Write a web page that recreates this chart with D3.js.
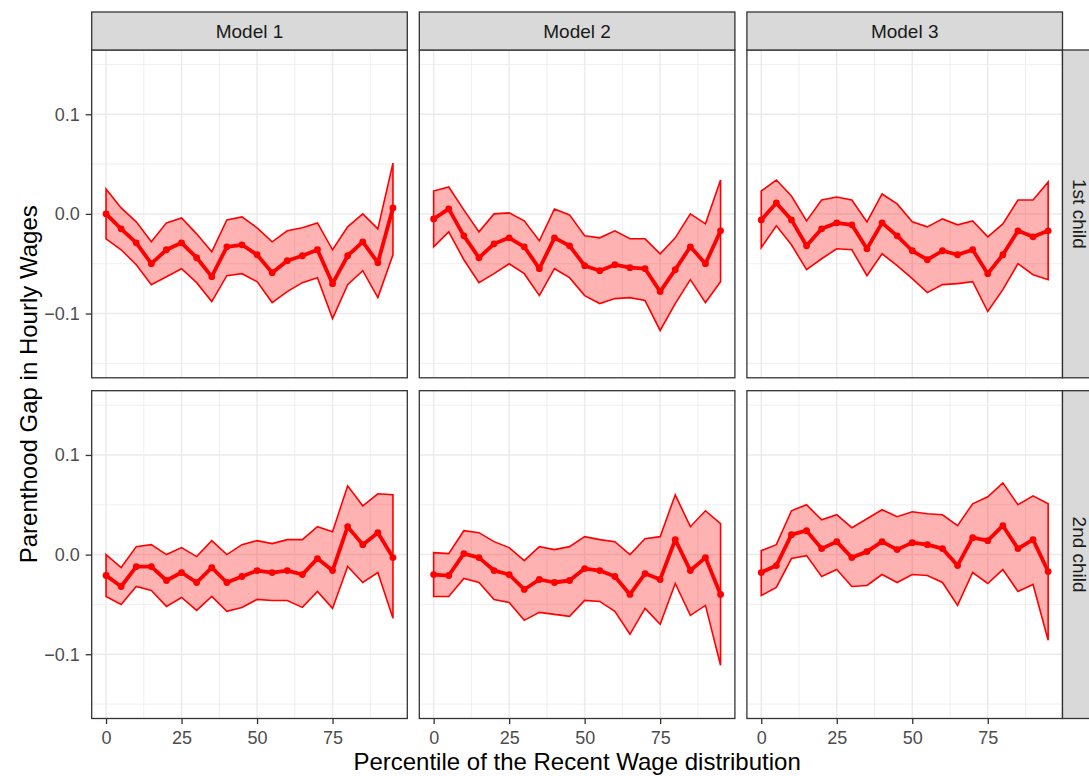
<!DOCTYPE html>
<html><head><meta charset="utf-8">
<script src="https://cdn.jsdelivr.net/npm/d3@7"></script>
<style>
html,body{margin:0;padding:0;background:#fff;}
svg{display:block;font-family:"Liberation Sans",Arial,Helvetica,sans-serif;}
</style></head>
<body><svg id="chart" width="1089" height="776"></svg>
<script>
// ---- data ----
const percentiles = [0,5,10,15,20,25,30,35,40,45,50,55,60,65,70,75,80,85,90,95];
const models = ["Model 1","Model 2","Model 3"];
const children = ["1st child","2nd child"];
const xTicks = [0,25,50,75];
const yTicks = [-0.1,0.0,0.1];
const yTickLabels = ["\u22120.1","0.0","0.1"];

// Model 1, 1st child
const m1c1_est = [0.000,-0.015,-0.029,-0.050,-0.036,-0.029,-0.044,-0.063,-0.033,-0.031,-0.041,-0.059,-0.047,-0.042,-0.036,-0.070,-0.042,-0.028,-0.049,0.006];
const m1c1_hi  = [0.025,0.006,-0.008,-0.028,-0.009,-0.004,-0.020,-0.038,-0.006,-0.003,-0.014,-0.028,-0.017,-0.014,-0.009,-0.036,-0.013,0.000,-0.015,0.051];
const m1c1_lo  = [-0.025,-0.036,-0.051,-0.071,-0.063,-0.055,-0.069,-0.088,-0.062,-0.060,-0.068,-0.089,-0.078,-0.069,-0.064,-0.105,-0.071,-0.057,-0.084,-0.041];
// Model 2, 1st child
const m2c1_est = [-0.005,0.005,-0.022,-0.044,-0.030,-0.024,-0.033,-0.055,-0.024,-0.032,-0.052,-0.057,-0.051,-0.054,-0.055,-0.078,-0.056,-0.033,-0.050,-0.017];
const m2c1_hi  = [0.023,0.027,0.004,-0.018,0.000,0.001,-0.007,-0.027,0.005,-0.001,-0.022,-0.024,-0.017,-0.025,-0.025,-0.040,-0.024,0.000,-0.010,0.034];
const m2c1_lo  = [-0.033,-0.018,-0.046,-0.069,-0.060,-0.050,-0.060,-0.082,-0.055,-0.064,-0.082,-0.090,-0.085,-0.084,-0.087,-0.117,-0.090,-0.066,-0.089,-0.068];
// Model 3, 1st child
const m3c1_est = [-0.006,0.011,-0.006,-0.032,-0.015,-0.009,-0.011,-0.035,-0.009,-0.022,-0.037,-0.046,-0.037,-0.041,-0.036,-0.060,-0.041,-0.017,-0.023,-0.017];
const m3c1_hi  = [0.023,0.034,0.018,-0.007,0.014,0.017,0.014,-0.008,0.020,0.010,-0.008,-0.013,-0.005,-0.011,-0.007,-0.023,-0.010,0.014,0.014,0.032];
const m3c1_lo  = [-0.034,-0.012,-0.031,-0.056,-0.045,-0.035,-0.036,-0.062,-0.040,-0.052,-0.065,-0.079,-0.071,-0.070,-0.068,-0.098,-0.076,-0.050,-0.061,-0.066];
// Model 1, 2nd child
const m1c2_est = [-0.021,-0.032,-0.012,-0.012,-0.026,-0.018,-0.028,-0.013,-0.028,-0.022,-0.016,-0.018,-0.016,-0.020,-0.004,-0.016,0.028,0.010,0.022,-0.003];
const m1c2_hi  = [0.000,-0.013,0.008,0.010,0.000,0.007,-0.002,0.014,0.000,0.010,0.014,0.011,0.015,0.015,0.028,0.023,0.069,0.049,0.061,0.060];
const m1c2_lo  = [-0.042,-0.050,-0.032,-0.036,-0.052,-0.043,-0.056,-0.042,-0.057,-0.053,-0.045,-0.046,-0.046,-0.053,-0.037,-0.054,-0.012,-0.028,-0.018,-0.064];
// Model 2, 2nd child
const m2c2_est = [-0.020,-0.021,0.001,-0.003,-0.016,-0.020,-0.035,-0.025,-0.028,-0.026,-0.014,-0.016,-0.022,-0.040,-0.019,-0.025,0.015,-0.016,-0.003,-0.040];
const m2c2_hi  = [0.002,0.001,0.024,0.022,0.013,0.007,-0.006,0.008,0.005,0.008,0.018,0.015,0.013,0.000,0.016,0.018,0.060,0.028,0.044,0.031];
const m2c2_lo  = [-0.042,-0.042,-0.024,-0.028,-0.045,-0.048,-0.066,-0.058,-0.060,-0.062,-0.046,-0.047,-0.057,-0.080,-0.054,-0.070,-0.029,-0.061,-0.051,-0.111];
// Model 3, 2nd child
const m3c2_est = [-0.018,-0.011,0.020,0.024,0.006,0.013,-0.003,0.003,0.013,0.005,0.012,0.010,0.006,-0.011,0.017,0.014,0.029,0.006,0.015,-0.017];
const m3c2_hi  = [0.004,0.010,0.044,0.050,0.035,0.040,0.027,0.036,0.045,0.038,0.043,0.041,0.040,0.029,0.051,0.058,0.072,0.050,0.059,0.051];
const m3c2_lo  = [-0.041,-0.033,-0.004,-0.001,-0.022,-0.015,-0.032,-0.031,-0.020,-0.028,-0.020,-0.021,-0.028,-0.051,-0.018,-0.029,-0.015,-0.037,-0.030,-0.086];

const panels = [
  {col:0,row:0,est:m1c1_est,lo:m1c1_lo,hi:m1c1_hi},
  {col:1,row:0,est:m2c1_est,lo:m2c1_lo,hi:m2c1_hi},
  {col:2,row:0,est:m3c1_est,lo:m3c1_lo,hi:m3c1_hi},
  {col:0,row:1,est:m1c2_est,lo:m1c2_lo,hi:m1c2_hi},
  {col:1,row:1,est:m2c2_est,lo:m2c2_lo,hi:m2c2_hi},
  {col:2,row:1,est:m3c2_est,lo:m3c2_lo,hi:m3c2_hi},
];

// ---- layout ----
const svg = d3.select("#chart");
const colLeft = [91.7, 419.3, 746.9];
const pw = 315.6;
const rowTop = [50, 390.7];
const ph = 327.8;
const stripH = 38;
const stripW = 38;

const x = d3.scaleLinear().domain([-4.75, 99.75]).range([0, pw]);
const y = d3.scaleLinear().domain([-0.1645, 0.1645]).range([ph, 0]);
const xMinor = [12.5,37.5,62.5,87.5];
const yMinor = [-0.15,-0.05,0.05,0.15];

const red = "#ff0000";
const tickFont = "18px";
const stripFont = "19px";
const titleFont = "24px";

panels.forEach(p => {
  const g = svg.append("g").attr("transform", `translate(${colLeft[p.col]},${rowTop[p.row]})`);
  g.append("rect").attr("width", pw).attr("height", ph).attr("fill", "#fff");
  // minor grid
  g.selectAll(".xmn").data(xMinor).join("line")
    .attr("x1", d=>x(d)).attr("x2", d=>x(d)).attr("y1",0).attr("y2",ph)
    .attr("stroke","#ebebeb").attr("stroke-width",0.8);
  g.selectAll(".ymn").data(yMinor).join("line")
    .attr("y1", d=>y(d)).attr("y2", d=>y(d)).attr("x1",0).attr("x2",pw)
    .attr("stroke","#ebebeb").attr("stroke-width",0.8);
  // major grid
  g.selectAll(".xmj").data(xTicks).join("line")
    .attr("x1", d=>x(d)).attr("x2", d=>x(d)).attr("y1",0).attr("y2",ph)
    .attr("stroke","#ebebeb").attr("stroke-width",1.5);
  g.selectAll(".ymj").data(yTicks).join("line")
    .attr("y1", d=>y(d)).attr("y2", d=>y(d)).attr("x1",0).attr("x2",pw)
    .attr("stroke","#ebebeb").attr("stroke-width",1.5);

  const data = percentiles.map((pc,i)=>({pc, est:p.est[i], lo:p.lo[i], hi:p.hi[i]}));
  // ribbon polygon (filled + outlined)
  const area = d3.area().x(d=>x(d.pc)).y0(d=>y(d.lo)).y1(d=>y(d.hi));
  g.append("path").attr("d", area(data)+"Z")
    .attr("fill", red).attr("fill-opacity", 0.3)
    .attr("stroke", red).attr("stroke-width", 1.6).attr("stroke-linejoin","miter");
  // estimate line
  const line = d3.line().x(d=>x(d.pc)).y(d=>y(d.est));
  g.append("path").attr("d", line(data)).attr("fill","none")
    .attr("stroke", red).attr("stroke-width", 3.8).attr("stroke-linejoin","round");
  g.selectAll("circle").data(data).join("circle")
    .attr("cx", d=>x(d.pc)).attr("cy", d=>y(d.est)).attr("r", 3.4).attr("fill", red);

  // border
  g.append("rect").attr("width", pw).attr("height", ph)
    .attr("fill","none").attr("stroke","#333333").attr("stroke-width",1.3);

  // axes
  if (p.row === 1) {
    const ax = g.append("g").attr("transform", `translate(0,${ph})`)
      .call(d3.axisBottom(x).tickValues(xTicks).tickSize(5.5).tickPadding(7.5).tickFormat(d3.format("d")));
    ax.select(".domain").remove();
    ax.selectAll("line").attr("stroke","#333333").attr("stroke-width",1.3);
    ax.selectAll("text").attr("fill","#4d4d4d").style("font-size",tickFont)
      .style("font-family","'Liberation Sans',Arial,sans-serif");
  }
  if (p.col === 0) {
    const ay = g.append("g")
      .call(d3.axisLeft(y).tickValues(yTicks).tickSize(6).tickPadding(6)
        .tickFormat((d,i)=>yTickLabels[i]));
    ay.select(".domain").remove();
    ay.selectAll("line").attr("stroke","#333333").attr("stroke-width",1.3);
    ay.selectAll("text").attr("fill","#4d4d4d").style("font-size",tickFont)
      .style("font-family","'Liberation Sans',Arial,sans-serif");
  }
});

// top strips
models.forEach((m,i)=>{
  const g = svg.append("g").attr("transform", `translate(${colLeft[i]},${rowTop[0]-stripH})`);
  g.append("rect").attr("width", pw).attr("height", stripH)
    .attr("fill","#d9d9d9").attr("stroke","#333333").attr("stroke-width",1.3);
  g.append("text").attr("x", pw/2).attr("y", stripH/2).attr("dy","0.35em")
    .attr("text-anchor","middle").attr("fill","#1a1a1a").style("font-size",stripFont).text(m);
});
// right strips
children.forEach((c,i)=>{
  const sx = colLeft[2]+pw;
  const g = svg.append("g").attr("transform", `translate(${sx},${rowTop[i]})`);
  g.append("rect").attr("width", stripW).attr("height", ph)
    .attr("fill","#d9d9d9").attr("stroke","#333333").attr("stroke-width",1.3);
  g.append("text").attr("transform", `translate(17,${ph/2}) rotate(90)`)
    .attr("dy","0.35em").attr("text-anchor","middle").attr("fill","#1a1a1a")
    .style("font-size",stripFont).text(c);
});

// axis titles
svg.append("text").attr("x", (colLeft[0]+colLeft[2]+pw)/2).attr("y", 770)
  .attr("text-anchor","middle").attr("fill","#000").style("font-size",titleFont)
  .text("Percentile of the Recent Wage distribution");
svg.append("text").attr("transform", `translate(36.5,${(rowTop[0]+rowTop[1]+ph)/2}) rotate(-90)`)
  .attr("text-anchor","middle").attr("fill","#000").style("font-size",titleFont)
  .text("Parenthood Gap in Hourly Wages");
</script>
</body></html>
